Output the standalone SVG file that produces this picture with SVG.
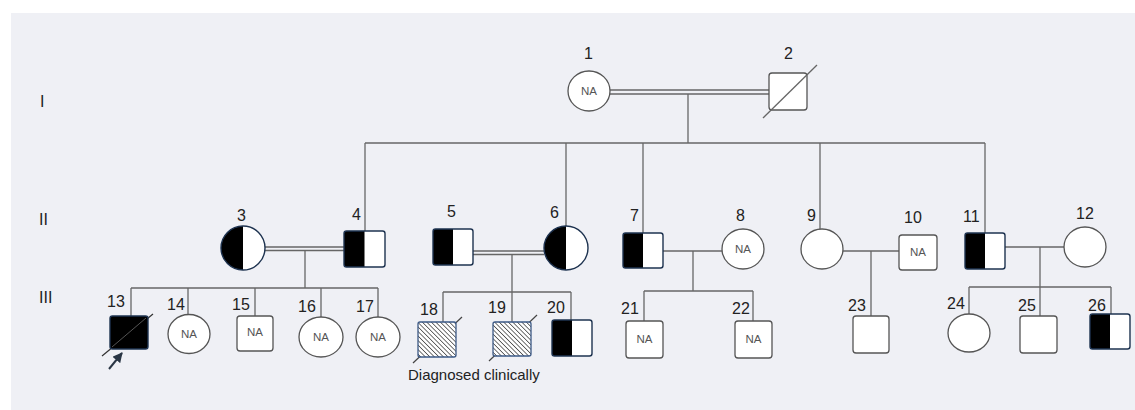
<svg xmlns="http://www.w3.org/2000/svg" width="1135" height="410" viewBox="0 0 1135 410">
<defs>
<style>
.ln{stroke:#666;stroke-width:1.3;fill:none}
.nd{fill:#fff;stroke:#555;stroke-width:1.3}
.af{stroke:#1e3350;stroke-width:1.4}
.num{font-family:"Liberation Sans",Arial,sans-serif;font-size:16px;fill:#222}
.gen{font-family:"Liberation Sans",Arial,sans-serif;font-size:16px;fill:#222}
.na{font-family:"Liberation Sans",Arial,sans-serif;font-size:11.5px;fill:#555;text-anchor:middle}
.cap{font-family:"Liberation Sans",Arial,sans-serif;font-size:15px;fill:#222}
</style>
<pattern id="hatch" patternUnits="userSpaceOnUse" width="3.2" height="3.2" patternTransform="rotate(-45)">
<rect width="3.2" height="3.2" fill="#fff"/>
<line x1="0" y1="0" x2="0" y2="3.2" stroke="#444" stroke-width="1.5"/>
</pattern>
<marker id="ah" viewBox="0 0 10 10" refX="9" refY="5" markerWidth="5" markerHeight="5" orient="auto">
<path d="M0,0 L10,5 L0,10 z" fill="#2a3645"/>
</marker>
</defs>
<rect x="11" y="13" width="1124" height="397" fill="#eff0f5"/>
<text class="gen" x="40" y="107">I</text>
<text class="gen" x="39" y="225">II</text>
<text class="gen" x="39" y="303">III</text>

<g id="connectors">
<line class="ln" x1="610" y1="90" x2="769" y2="90"/>
<line class="ln" x1="610" y1="94" x2="769" y2="94"/>
<line class="ln" x1="688" y1="94" x2="688" y2="143"/>
<line class="ln" x1="365" y1="143" x2="985" y2="143"/>
<line class="ln" x1="365" y1="143" x2="365" y2="231"/>
<line class="ln" x1="566" y1="143" x2="566" y2="226"/>
<line class="ln" x1="643" y1="143" x2="643" y2="233"/>
<line class="ln" x1="820" y1="143" x2="820" y2="229"/>
<line class="ln" x1="985" y1="143" x2="985" y2="233"/>
<line class="ln" x1="265" y1="247" x2="344" y2="247"/>
<line class="ln" x1="265" y1="250.5" x2="344" y2="250.5"/>
<line class="ln" x1="305" y1="250.5" x2="305" y2="288"/>
<line class="ln" x1="131" y1="288" x2="378" y2="288"/>
<line class="ln" x1="131" y1="288" x2="131" y2="316"/>
<line class="ln" x1="188" y1="288" x2="188" y2="315"/>
<line class="ln" x1="255" y1="288" x2="255" y2="316"/>
<line class="ln" x1="321" y1="288" x2="321" y2="317"/>
<line class="ln" x1="378" y1="288" x2="378" y2="317"/>
<line class="ln" x1="473" y1="251" x2="544" y2="251"/>
<line class="ln" x1="473" y1="254.5" x2="544" y2="254.5"/>
<line class="ln" x1="512" y1="254.5" x2="512" y2="292"/>
<line class="ln" x1="443" y1="292" x2="571" y2="292"/>
<line class="ln" x1="443" y1="292" x2="443" y2="322"/>
<line class="ln" x1="512" y1="292" x2="512" y2="322"/>
<line class="ln" x1="571" y1="292" x2="571" y2="320"/>
<line class="ln" x1="663" y1="251" x2="722" y2="251"/>
<line class="ln" x1="693" y1="251" x2="693" y2="291"/>
<line class="ln" x1="644" y1="291" x2="753" y2="291"/>
<line class="ln" x1="644" y1="291" x2="644" y2="321"/>
<line class="ln" x1="753" y1="291" x2="753" y2="321"/>
<line class="ln" x1="843" y1="251" x2="899" y2="251"/>
<line class="ln" x1="871" y1="251" x2="871" y2="316"/>
<line class="ln" x1="1005" y1="247" x2="1064" y2="247"/>
<line class="ln" x1="1040" y1="247" x2="1040" y2="316"/>
<line class="ln" x1="969" y1="287" x2="1111" y2="287"/>
<line class="ln" x1="969" y1="287" x2="969" y2="314"/>
<line class="ln" x1="1111" y1="287" x2="1111" y2="314"/>
</g>

<g id="n1"><ellipse class="nd" cx="589" cy="91" rx="21" ry="20"/><text class="na" x="589" y="95">NA</text><text class="num" x="584" y="59">1</text></g>
<g id="n2"><rect class="nd" x="769" y="73" width="38" height="37" rx="3"/><line class="ln" x1="763" y1="118" x2="817" y2="65" stroke="#444"/><text class="num" x="784" y="59">2</text></g>

<g id="n3"><circle cx="243" cy="248" r="22" fill="#fff"/><path d="M243,226 A22,22 0 0 0 243,270 Z" fill="#000"/><circle class="af" cx="243" cy="248" r="22" fill="none"/><text class="num" x="237" y="221">3</text></g>
<g id="n4"><rect x="344" y="231" width="41" height="36" fill="#fff"/><rect x="344" y="231" width="20.5" height="36" fill="#000"/><rect class="af" x="344" y="231" width="41" height="36" rx="2.5" fill="none"/><text class="num" x="352" y="220">4</text></g>
<g id="n5"><rect x="433" y="229" width="40" height="36" fill="#fff"/><rect x="433" y="229" width="20" height="36" fill="#000"/><rect class="af" x="433" y="229" width="40" height="36" rx="2.5" fill="none"/><text class="num" x="447" y="217">5</text></g>
<g id="n6"><circle cx="566" cy="248" r="22" fill="#fff"/><path d="M566,226 A22,22 0 0 0 566,270 Z" fill="#000"/><circle class="af" cx="566" cy="248" r="22" fill="none"/><text class="num" x="550" y="218">6</text></g>
<g id="n7"><rect x="623" y="233" width="40" height="35" fill="#fff"/><rect x="623" y="233" width="20" height="35" fill="#000"/><rect class="af" x="623" y="233" width="40" height="35" rx="2.5" fill="none"/><text class="num" x="630" y="221">7</text></g>
<g id="n8"><ellipse class="nd" cx="743" cy="249" rx="21" ry="20"/><text class="na" x="743" y="253">NA</text><text class="num" x="736" y="221">8</text></g>
<g id="n9"><ellipse class="nd" cx="822" cy="249" rx="21" ry="20"/><text class="num" x="807" y="221">9</text></g>
<g id="n10"><rect class="nd" x="899" y="235" width="38" height="35" rx="3"/><text class="na" x="918" y="256">NA</text><text class="num" x="904" y="223">10</text></g>
<g id="n11"><rect x="965" y="233" width="40" height="36" fill="#fff"/><rect x="965" y="233" width="20" height="36" fill="#000"/><rect class="af" x="965" y="233" width="40" height="36" rx="2.5" fill="none"/><text class="num" x="963" y="222">11</text></g>
<g id="n12"><ellipse class="nd" cx="1085" cy="247" rx="21" ry="20"/><text class="num" x="1076" y="219">12</text></g>

<g id="n13"><line x1="102" y1="356" x2="153" y2="314" stroke="#333" stroke-width="1.2"/><rect class="af" x="110" y="316" width="38" height="33" rx="2.5" fill="#000"/><line x1="112" y1="347" x2="146" y2="318" stroke="#555" stroke-width="1"/><line x1="109" y1="369" x2="122" y2="353" stroke="#2a3645" stroke-width="2" marker-end="url(#ah)"/><text class="num" x="107" y="307">13</text></g>
<g id="n14"><ellipse class="nd" cx="189" cy="334" rx="21" ry="19.5"/><text class="na" x="189" y="338">NA</text><text class="num" x="167" y="310">14</text></g>
<g id="n15"><rect class="nd" x="237" y="316" width="36" height="35" rx="3"/><text class="na" x="255" y="336">NA</text><text class="num" x="232" y="310">15</text></g>
<g id="n16"><ellipse class="nd" cx="321" cy="337" rx="22" ry="20"/><text class="na" x="321" y="341">NA</text><text class="num" x="298" y="312">16</text></g>
<g id="n17"><ellipse class="nd" cx="378" cy="337" rx="22" ry="20"/><text class="na" x="378" y="341">NA</text><text class="num" x="356" y="312">17</text></g>

<g id="n18"><line x1="413" y1="363" x2="462" y2="317" stroke="#444" stroke-width="1.2"/><rect x="418" y="322" width="38" height="35" rx="2" fill="url(#hatch)" stroke="#3d5a86" stroke-width="1.3"/><text class="num" x="420" y="315">18</text></g>
<g id="n19"><line x1="489" y1="361" x2="537" y2="315" stroke="#444" stroke-width="1.2"/><rect x="493" y="322" width="38" height="34" rx="2" fill="url(#hatch)" stroke="#3d5a86" stroke-width="1.3"/><text class="num" x="488" y="313">19</text></g>
<g id="n20"><rect x="552" y="320" width="40" height="36" fill="#fff"/><rect x="552" y="320" width="20" height="36" fill="#000"/><rect class="af" x="552" y="320" width="40" height="36" rx="2.5" fill="none"/><text class="num" x="547" y="313">20</text></g>
<text class="cap" x="408" y="380">Diagnosed clinically</text>

<g id="n21"><rect class="nd" x="626" y="321" width="37" height="37" rx="3"/><text class="na" x="644.5" y="343">NA</text><text class="num" x="621" y="314">21</text></g>
<g id="n22"><rect class="nd" x="735" y="321" width="37" height="37" rx="3"/><text class="na" x="753.5" y="343">NA</text><text class="num" x="732" y="314">22</text></g>
<g id="n23"><rect class="nd" x="853" y="316" width="36" height="37" rx="3"/><text class="num" x="848" y="311">23</text></g>
<g id="n24"><ellipse class="nd" cx="969" cy="333" rx="21" ry="19"/><text class="num" x="947" y="309">24</text></g>
<g id="n25"><rect class="nd" x="1020" y="316" width="37" height="37" rx="3"/><text class="num" x="1018" y="311">25</text></g>
<g id="n26"><rect x="1090" y="314" width="40" height="35" fill="#fff"/><rect x="1090" y="314" width="20" height="35" fill="#000"/><rect class="af" x="1090" y="314" width="40" height="35" rx="2.5" fill="none"/><text class="num" x="1088" y="311">26</text></g>
</svg>
